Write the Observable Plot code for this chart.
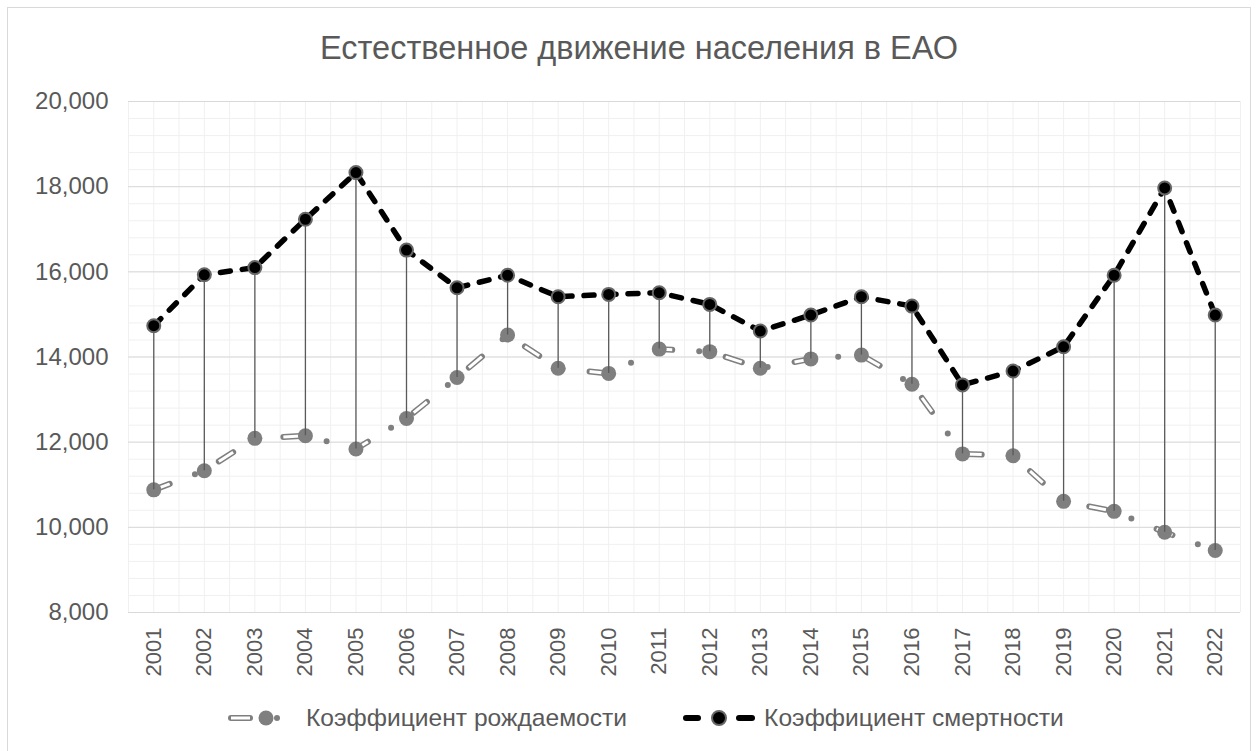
<!DOCTYPE html>
<html>
<head>
<meta charset="utf-8">
<script src="https://cdn.jsdelivr.net/npm/d3@7"></script>
<script src="https://cdn.jsdelivr.net/npm/@observablehq/plot@0.6"></script>
<style>
  body { margin: 0; background: #fff; font-family: "Liberation Sans", Arial, sans-serif; }
  #wrap { position: relative; width: 1258px; height: 751px; overflow: hidden; background: #fff; }
  #frame { position: absolute; left: 7px; top: 7px; width: 1244px; height: 780px; border: 1px solid #d9d9d9; box-sizing: border-box; }
  #title { position: absolute; left: 0; top: 32px; width: 1278px; text-align: center; font-size: 32.5px; color: #595959; line-height: 1; }
  #chart { position: absolute; left: 0; top: 0; }
  #legend { position: absolute; left: 226px; top: 706px; display: flex; align-items: center; font-size: 24.6px; color: #595959; line-height: 1; white-space: nowrap; }
  #legend .item { display: flex; align-items: center; }
  #legend svg { display: block; }
</style>
</head>
<body>
<div id="wrap">
  <div id="frame"></div>
  <div id="title">Естественное движение населения в ЕАО</div>
  <div id="chart"></div>
  <div id="legend">
    <div class="item">
      <svg width="56" height="24" viewBox="0 0 56 24">
        <line x1="5" y1="12" x2="24" y2="12" stroke="#7f7f7f" stroke-width="6" stroke-linecap="round"/>
        <line x1="5" y1="12" x2="24" y2="12" stroke="#fff" stroke-width="3" stroke-linecap="butt"/>
        <circle cx="40" cy="12" r="7.5" fill="#7f7f7f"/>
        <circle cx="51" cy="12" r="3" fill="#7f7f7f"/>
      </svg>
      <span style="margin-left:24px">Коэффициент рождаемости</span>
    </div>
    <div class="item" style="margin-left:55px">
      <svg width="74" height="24" viewBox="0 0 74 24">
        <line x1="4" y1="12" x2="16" y2="12" stroke="#000" stroke-width="6" stroke-linecap="round"/>
        <circle cx="37" cy="12" r="7" fill="#000" stroke="#666" stroke-width="2"/>
        <line x1="57" y1="12" x2="70" y2="12" stroke="#000" stroke-width="6" stroke-linecap="round"/>
      </svg>
      <span style="margin-left:8px">Коэффициент смертности</span>
    </div>
  </div>
</div>
<script>
// Categories (years)
const years = [2001, 2002, 2003, 2004, 2005, 2006, 2007, 2008, 2009, 2010, 2011,
               2012, 2013, 2014, 2015, 2016, 2017, 2018, 2019, 2020, 2021, 2022];
// Коэффициент рождаемости
const birth = [10880, 11330, 12090, 12150, 11840, 12555, 13520, 14515, 13735, 13615, 14185,
               14125, 13735, 13955, 14045, 13360, 11725, 11680, 10610, 10375, 9885, 9455];
// Коэффициент смертности
const death = [14735, 15930, 16100, 17235, 18330, 16510, 15625, 15920, 15415, 15470, 15510,
               15235, 14610, 14985, 15415, 15195, 13345, 13670, 14240, 15920, 17970, 14985];
// Y tick labels
const yTicks = [8000, 10000, 12000, 14000, 16000, 18000, 20000];

const data = years.map((year, i) => ({year, birth: birth[i], death: death[i]}));

// gridlines: minor every 400 on y, every half category on x
const yMinor = d3.range(8000, 20001, 400);
const xGrid = d3.range(2000.5, 2022.51, 0.5);

const dashBirth = "17,27,0,27.3";

const chart = Plot.plot({
  width: 1258,
  height: 751,
  marginLeft: 128,
  marginRight: 18,
  marginTop: 101,
  marginBottom: 139,
  x: {domain: [2000.5, 2022.5]},
  y: {domain: [8000, 20000]},
  style: {fontFamily: '"Liberation Sans", Arial, sans-serif', fontSize: "24px", color: "#595959", background: "transparent", overflow: "visible"},
  marks: [
    Plot.ruleY(yMinor, {stroke: "#f0f0f0", strokeWidth: 1}),
    Plot.ruleX(xGrid, {stroke: "#f0f0f0", strokeWidth: 1}),
    Plot.ruleY(yTicks, {stroke: "#d9d9d9", strokeWidth: 1}),
    Plot.axisY({ticks: yTicks, tickFormat: d3.format(","), tickSize: 0, tickPadding: 20, fontSize: 24, fill: "#595959", label: null}),
    Plot.axisX({ticks: years, tickFormat: d => String(d), tickRotate: -90, tickSize: 0, tickPadding: 15, fontSize: 22, fill: "#595959", label: null}),
    Plot.line(data, {x: "year", y: "birth", stroke: "#7f7f7f", strokeWidth: 6, strokeDasharray: dashBirth, strokeLinecap: "round", strokeLinejoin: "round"}),
    Plot.line(data, {x: "year", y: "birth", stroke: "#ffffff", strokeWidth: 3, strokeDasharray: dashBirth, strokeLinecap: "butt", strokeLinejoin: "round"}),
    Plot.dot(data, {x: "year", y: "birth", r: 7.5, fill: "#7f7f7f", stroke: "none"}),
    Plot.ruleX(data, {x: "year", y1: "birth", y2: "death", stroke: "#595959", strokeWidth: 1.3}),
    Plot.line(data, {x: "year", y: "death", stroke: "#000", strokeWidth: 5.5, strokeDasharray: "10,12", strokeLinecap: "round", strokeLinejoin: "round"}),
    Plot.dot(data, {x: "year", y: "death", r: 6.5, fill: "#000", stroke: "#666", strokeWidth: 2})
  ]
});
document.getElementById("chart").appendChild(chart);
</script>
</body>
</html>
